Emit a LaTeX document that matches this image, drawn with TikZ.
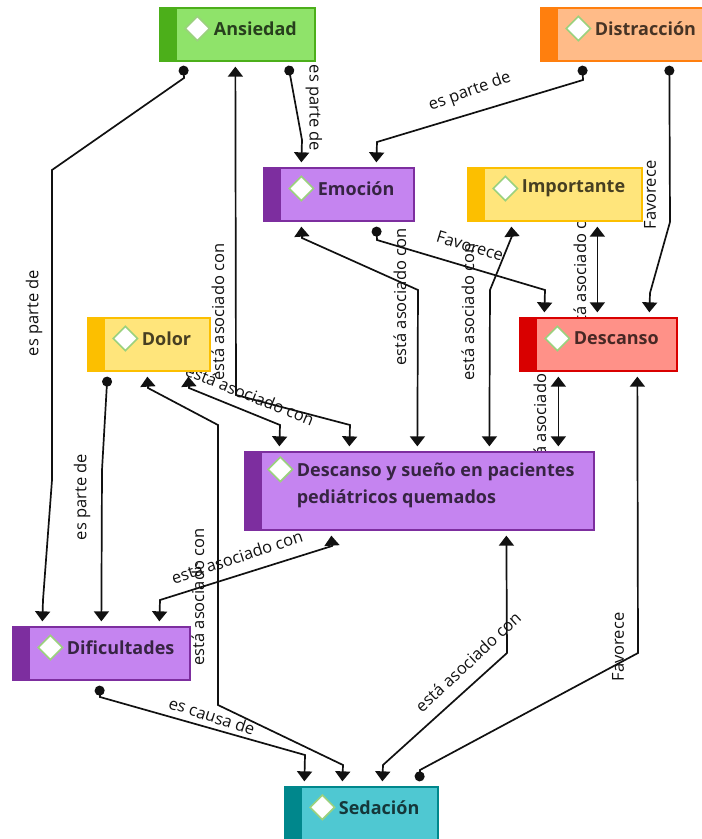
\documentclass[tikz,border=0pt]{standalone}
\usepackage{fontspec}
\setmainfont{Open Sans}
\usetikzlibrary{arrows.meta,shapes.geometric,calc}

\definecolor{grnbar}{HTML}{4CAF1A}\definecolor{grnfill}{HTML}{8FE36A}
\definecolor{orgbar}{HTML}{FF7F0E}\definecolor{orgfill}{HTML}{FFBB88}
\definecolor{purbar}{HTML}{7D2E9F}\definecolor{purfill}{HTML}{C584F0}
\definecolor{yelbar}{HTML}{FCBF00}\definecolor{yelfill}{HTML}{FFE57B}
\definecolor{redbar}{HTML}{D90000}\definecolor{redfill}{HTML}{FF9188}
\definecolor{tealbar}{HTML}{00878C}\definecolor{tealfill}{HTML}{4FC8D2}
\definecolor{iconline}{HTML}{9BD17E}
\definecolor{linkcol}{HTML}{111111}

\pgfdeclarelayer{links}
\pgfsetlayers{links,main}

\tikzset{
  conceptbox/.style={rectangle, draw=#1bar, fill=#1fill, line width=1.3pt, inner sep=0pt,
    path picture={\fill[#1bar] (path picture bounding box.north west)
      rectangle ([xshift=17pt]path picture bounding box.south west);}},
  icon/.style={diamond, draw=iconline, fill=white, line width=1.6pt,
    minimum width=25pt, minimum height=25pt, inner sep=0pt},
  ctext/.style={anchor=west, inner sep=0pt, text=black, text opacity=0.72,
    font=\bfseries\fontsize{18}{27}\selectfont},
  link/.style={draw=linkcol, line width=1.7pt},
  tri/.style={-{Triangle[width=15pt,length=10pt]}},
  dbl/.style={{Triangle[width=15pt,length=10pt]}-{Triangle[width=15pt,length=10pt]}},
  dot/.style={{Circle[length=10pt]}-{Triangle[width=15pt,length=10pt]}},
  lbl/.style={inner sep=0pt, text=linkcol, font=\fontsize{16.5}{19}\selectfont},
}

% concept box: name, x1, y1, x2, y2, colour family, caption
\newcommand\conceptnode[7]{%
  \node[conceptbox=#6, minimum width={(#4-#2)*1pt}, minimum height={(#5-#3)*1pt}]
    (#1) at ({(#2+#4)/2},{(#3+#5)/2}) {};
  \node[icon] (#1-icon) at ([shift={(38,-6)}]#1.west) {};
  \node[ctext] (#1-text) at ([xshift=3pt]#1-icon.east) {#7};
}

\begin{document}
\begin{tikzpicture}[x=1pt,y=-1pt]
\useasboundingbox (0,0) rectangle (702,839);

% concepts
\conceptnode{ansiedad}{160}{8}{315}{61}{grn}{Ansiedad}
\conceptnode{distraccion}{541}{8}{708}{61}{org}{Distracción}
\conceptnode{emocion}{264}{168}{414}{221}{pur}{Emoción}
\conceptnode{importante}{468}{168}{642}{221}{yel}{Importante}
\conceptnode{dolor}{88}{318}{210}{371}{yel}{Dolor}
\conceptnode{descanso}{520}{318}{677}{371}{red}{Descanso}
\conceptnode{dificultades}{13}{627}{190}{680}{pur}{Dificultades}
\node[conceptbox=teal, minimum width=153pt, minimum height=65pt] (sedacion) at (361.5,819.5) {};
\node[icon] (sedacion-icon) at ([shift={(38,21)}]sedacion.north west) {};
\node[ctext] (sedacion-text) at ([xshift=3pt]sedacion-icon.east) {Sedación};

\node[conceptbox=pur, minimum width=349pt, minimum height=78pt] (sueno) at (419.5,491) {};
\node[icon] (sueno-icon) at ([shift={(36,18)}]sueno.north west) {};
\node[ctext, anchor=north west, align=left] (sueno-text) at ([shift={(3,-7)}]sueno-icon.east)
  {Descanso y sueño en pacientes\\pediátricos quemados};

% links and their labels, kept beneath the concept boxes
\begin{pgfonlayer}{links}
\draw[link, dot] ([shift={(24,4)}]ansiedad.south west) -- (184,78) -- (52,170) -- (52,480)
  -- (43,600) -- ([shift={(30,-5)}]dificultades.north west);
\node[lbl, rotate=90] (l-aa) at (34,313) {es parte de};

\draw[link, dot] ([shift={(129,4)}]ansiedad.south west) -- (302,140)
  -- ([shift={(38,-5)}]emocion.north west);
\node[lbl, rotate=-90] (l-ae) at (314,108) {es parte de};

\draw[link, dot] ([shift={(42,4)}]distraccion.south west) -- (583,80) -- (377,142)
  -- ([shift={(113,-5)}]emocion.north west);
\node[lbl, rotate=20] (l-de) at (470,92) {es parte de};

\draw[link, dot] ([shift={(129,4)}]distraccion.south west) -- (670,222) -- (650,293)
  -- ([shift={(130,-5)}]descanso.north west);
\node[lbl, rotate=90] (l-dd) at (650,195) {Favorece};

\draw[link, dbl] ([shift={(38,5)}]emocion.south west) -- (302,238) -- (418,290)
  -- ([shift={(173,-5)}]sueno.north west);
\node[lbl, rotate=90] (l-es) at (400,297) {está asociado con};

\draw[link, dot] ([shift={(113,5)}]emocion.south west) -- (377,240) -- (545,290)
  -- ([shift={(25,-5)}]descanso.north west);
\node[lbl, rotate=-17] (l-ed) at (470,246) {Favorece};

\draw[link, dbl] ([shift={(44,5)}]importante.south west) -- (512,236) -- (490,290)
  -- ([shift={(245,-5)}]sueno.north west);
\node[lbl, rotate=90] (l-is) at (468,312) {está asociado con};

\draw[link, dbl] ([shift={(130,5)}]importante.south west)
  -- ([shift={(78,-5)}]descanso.north west);
\node[lbl, rotate=90] (l-id) at (580,270) {está asociado con};

\draw[link, dbl] ([shift={(39,5)}]descanso.south west)
  -- ([shift={(314,-5)}]sueno.north west);
\node[lbl, rotate=90] (l-ds) at (540,410) {está asociado con};

\draw[link, dot] ([shift={(135,-5)}]sedacion.north west) -- (420,770) -- (638,653)
  -- ([shift={(118,5)}]descanso.south west);
\node[lbl, rotate=90] (l-sd) at (618,647) {Favorece};

\draw[link, dbl] ([shift={(262,5)}]sueno.south west) -- (507,653) -- (383,765)
  -- ([shift={(98,-5)}]sedacion.north west);
\node[lbl, rotate=43] (l-ss) at (468,662) {está asociado con};

\draw[link, dbl] ([shift={(60,5)}]dolor.south west) -- (148,388) -- (218,425) -- (218,705)
  -- (343,765) -- ([shift={(58,-5)}]sedacion.north west);
\node[lbl, rotate=90] (l-os) at (198,597) {está asociado con};

\draw[link, dbl] ([shift={(101,5)}]dolor.south west) -- (189,388) -- (280,425)
  -- ([shift={(35,-5)}]sueno.north west);
\node[lbl, rotate=-22] (l-ou) at (250,395) {está asociado con};

\draw[link, dbl] ([shift={(76,5)}]ansiedad.south west) -- (236,395) -- (350,425)
  -- ([shift={(105,-5)}]sueno.north west);
\node[lbl, rotate=90] (l-au) at (218,312) {está asociado con};

\draw[link, dbl] ([shift={(87,5)}]sueno.south west) -- (332,546) -- (160,600)
  -- ([shift={(147,-5)}]dificultades.north west);
\node[lbl, rotate=18] (l-uf) at (237,557) {está asociado con};

\draw[link, dot] ([shift={(87,5)}]dificultades.south west) -- (100,697) -- (305,755)
  -- ([shift={(20,-5)}]sedacion.north west);
\node[lbl, rotate=-18] (l-fs) at (212,716) {es causa de};

\draw[link, dot] ([shift={(20,5)}]dolor.south west) -- (102,470)
  -- ([shift={(89,-5)}]dificultades.north west);
\node[lbl, rotate=90] (l-of) at (82,497) {es parte de};
\end{pgfonlayer}
\end{tikzpicture}
\end{document}
